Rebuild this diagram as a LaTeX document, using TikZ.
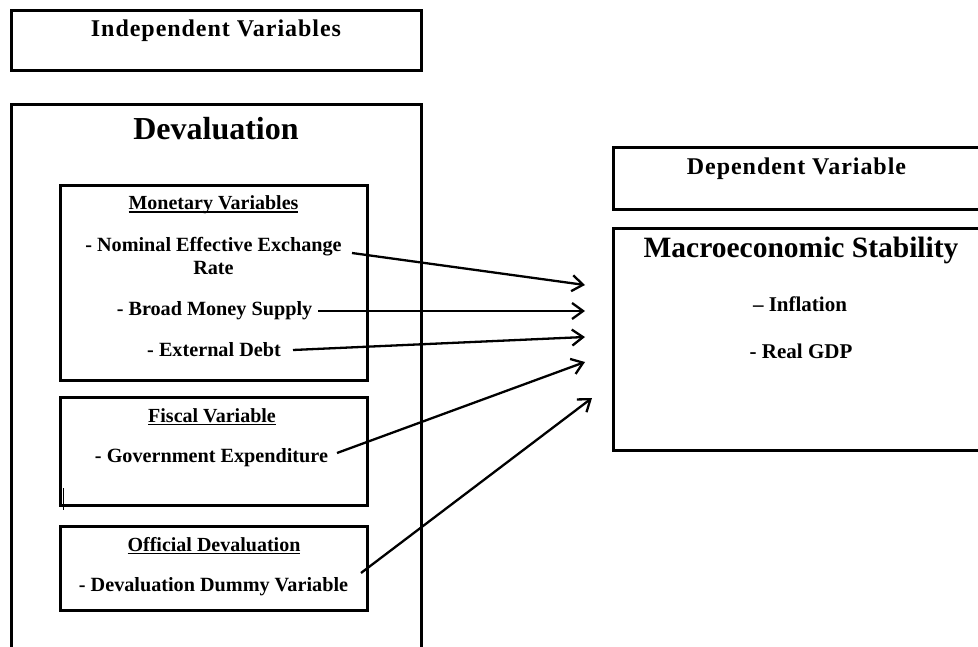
\documentclass[tikz,border=0pt]{standalone}
\usepackage{fontspec}
\setmainfont{Liberation Serif}
\usetikzlibrary{arrows.meta}
\newcommand\ulbox[1]{\setbox0\hbox{#1}\rlap{\rule[-3pt]{\wd0}{1.5pt}}\box0}
\tikzset{
  box/.style={draw, line width=3pt, inner sep=0pt, outer sep=0pt},
  txt/.style={anchor=base, inner sep=0pt},
  headfont/.style={font=\bfseries\fontsize{24}{28}\selectfont\addfontfeature{LetterSpace=4}},
  bigfont/.style={font=\bfseries\fontsize{32}{37}\selectfont},
  macfont/.style={font=\bfseries\fontsize{29.5}{34}\selectfont},
  subfont/.style={font=\bfseries\fontsize{20}{24}\selectfont},
  itemfont/.style={font=\bfseries\fontsize{20.2}{24}\selectfont},
  rightfont/.style={font=\bfseries\fontsize{21}{25}\selectfont},
  arr/.style={line width=2.3pt, -{Straight Barb[length=11pt,width=16pt,line width=2.3pt]}}
}
\begin{document}
\begin{tikzpicture}[x=1pt,y=-1pt]
\useasboundingbox (0,0) rectangle (978,647);
\clip (0,0) rectangle (978,647);
% boxes
\node[box, minimum width=410pt, minimum height=60.5pt] (indepbox) at (216.7,40.75) {};
\node[box, minimum width=410pt, minimum height=595.7pt] (devbox) at (216.7,402.15) {};
\node[box, minimum width=307pt, minimum height=194.9pt] (monbox) at (213.5,283.25) {};
\node[box, minimum width=307pt, minimum height=107.3pt] (fisbox) at (213.5,451.35) {};
\node[box, minimum width=307pt, minimum height=84pt] (offbox) at (213.5,568) {};
\node[box, minimum width=400pt, minimum height=61.6pt] (depbox) at (813.3,178.5) {};
\node[box, minimum width=400pt, minimum height=221.7pt] (macbox) at (813.3,339.15) {};
% texts
\node[txt, headfont] (indep) at (216,37) {Independent Variables};
\node[txt, bigfont] (dev) at (216,140) {Devaluation};
\node[txt, subfont] (mon) at (213.5,210) {\ulbox{Monetary Variables}};
\node[txt, itemfont] (neer) at (213.5,252) {- Nominal Effective Exchange};
\node[txt, itemfont] (neer2) at (213.5,275) {Rate};
\node[txt, itemfont] (bms) at (214.5,316) {- Broad Money Supply};
\node[txt, itemfont] (ed) at (214,356) {- External Debt};
\node[txt, subfont] (fis) at (212,422) {\ulbox{Fiscal Variable}};
\node[txt, itemfont] (ge) at (211.5,462) {- Government Expenditure};
\node[txt, subfont] (off) at (214,551) {\ulbox{Official Devaluation}};
\node[txt, itemfont] (ddv) at (213.5,591) {- Devaluation Dummy Variable};
\node[txt, headfont] (dep) at (796.5,175) {Dependent Variable};
\node[txt, macfont] (mac) at (801,258) {Macroeconomic Stability};
\node[txt, rightfont] (inf) at (800,312) {\textendash{} Inflation};
\node[txt, rightfont] (gdp) at (801,358) {- Real GDP};
% cursor mark
\draw[line width=1pt] (63,488) -- (63,510);
% arrow ends
\coordinate (s1) at (352,253);
\coordinate (e1) at (585,285);
\coordinate (s2) at (318,311);
\coordinate (e2) at (585,311);
\coordinate (s3) at (293,350);
\coordinate (e3) at (585,337);
\coordinate (s4) at (337,453);
\coordinate (e4) at (585,362);
\coordinate (s5) at (361,573);
\coordinate (e5) at (592,398);
\draw[arr] (s1) -- (e1);
\draw[arr] (s2) -- (e2);
\draw[arr] (s3) -- (e3);
\draw[arr] (s4) -- (e4);
\draw[arr] (s5) -- (e5);
\end{tikzpicture}
\end{document}
